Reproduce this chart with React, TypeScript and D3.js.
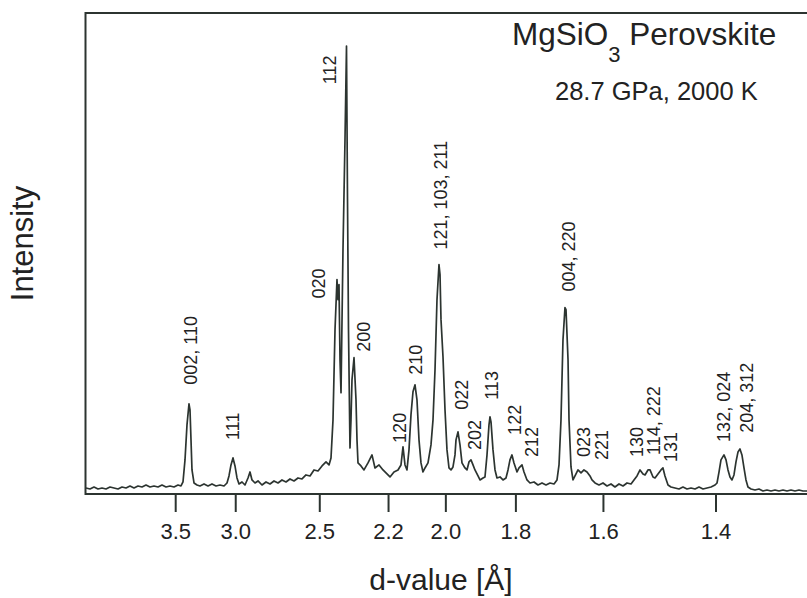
import React from "react";
import { scaleLinear, line } from "d3";

const width = 807;
const height = 598;

// d-value (Å), intensity (arb.)
const trace: [number, number][] = [
  [4.6606, 6], [4.5927, 5], [4.5268, 7], [4.4627, 5], [4.4003, 6], [4.3398, 5],
  [4.2808, 7], [4.2234, 6], [4.1676, 5], [4.1132, 7], [4.0602, 6], [4.0086, 8],
  [3.9582, 6], [3.9092, 8], [3.8613, 7], [3.8145, 9], [3.7689, 7], [3.7244, 8],
  [3.6809, 7], [3.6384, 9], [3.5969, 7], [3.5563, 8], [3.5166, 7], [3.4778, 9],
  [3.4493, 8], [3.4305, 12], [3.4119, 34], [3.3936, 69], [3.3754, 90], [3.3664, 84],
  [3.3574, 54], [3.3485, 24], [3.3308, 11], [3.3046, 9], [3.2788, 8], [3.245, 10],
  [3.212, 8], [3.1796, 10], [3.1478, 8], [3.1167, 9], [3.0862, 8], [3.0637, 11],
  [3.0489, 18], [3.0342, 29], [3.0197, 36], [3.0053, 28], [2.991, 16], [2.9769, 10],
  [2.9559, 12], [2.9353, 9], [2.9149, 16], [2.9015, 22], [2.8882, 14], [2.8685, 11],
  [2.849, 13], [2.8235, 9], [2.7984, 12], [2.7738, 10], [2.7496, 13], [2.7258, 11],
  [2.7025, 14], [2.6795, 12], [2.6569, 15], [2.6347, 13], [2.6128, 16], [2.5914, 15],
  [2.5702, 19], [2.5494, 18], [2.529, 24], [2.5088, 23], [2.489, 28], [2.4695, 32],
  [2.4551, 29], [2.4456, 36], [2.4361, 74], [2.4267, 164], [2.4175, 214], [2.4129, 194],
  [2.4082, 209], [2.4036, 134], [2.399, 101], [2.39, 244], [2.3809, 354], [2.3742, 447],
  [2.3697, 294], [2.3653, 164], [2.3587, 46], [2.3543, 74], [2.3499, 114], [2.3411, 136],
  [2.3325, 94], [2.3282, 54], [2.3239, 31], [2.3111, 28], [2.2985, 24], [2.2818, 31],
  [2.2654, 39], [2.2533, 26], [2.2372, 29], [2.2215, 24], [2.206, 20], [2.1944, 17],
  [2.1793, 22], [2.1643, 24], [2.1532, 29], [2.1459, 47], [2.1386, 29], [2.1314, 24],
  [2.1242, 44], [2.1171, 79], [2.11, 102], [2.1029, 109], [2.096, 94], [2.089, 54],
  [2.0821, 31], [2.0753, 22], [2.0684, 26], [2.0583, 31], [2.0483, 49], [2.0416, 74],
  [2.035, 124], [2.0285, 194], [2.022, 229], [2.0187, 219], [2.0155, 174], [2.0091, 137],
  [2.0027, 84], [1.9964, 44], [1.9901, 26], [1.9838, 24], [1.9776, 27], [1.9714, 39],
  [1.9683, 54], [1.9622, 62], [1.9561, 49], [1.9501, 31], [1.9411, 26], [1.9351, 24],
  [1.9292, 32], [1.9233, 34], [1.9174, 29], [1.9117, 24], [1.9029, 18], [1.8972, 14],
  [1.8887, 16], [1.8831, 17], [1.8774, 39], [1.8719, 69], [1.8691, 77], [1.8663, 72],
  [1.8608, 44], [1.8553, 24], [1.8499, 16], [1.8418, 17], [1.8338, 14], [1.8258, 16],
  [1.8205, 24], [1.8153, 34], [1.8101, 39], [1.8049, 31], [1.7971, 22], [1.792, 26],
  [1.7844, 29], [1.7794, 22], [1.7719, 14], [1.7645, 11], [1.7546, 12], [1.7449, 9],
  [1.7353, 11], [1.7258, 9], [1.7164, 11], [1.7071, 10], [1.7002, 14], [1.6956, 29],
  [1.6911, 74], [1.6866, 154], [1.6821, 186], [1.6798, 184], [1.6753, 134], [1.6731, 74],
  [1.6687, 27], [1.6643, 14], [1.6577, 20], [1.6534, 24], [1.6469, 21], [1.6405, 24],
  [1.6341, 22], [1.6278, 18], [1.6236, 14], [1.6173, 11], [1.6091, 9], [1.6009, 11],
  [1.5928, 8], [1.5848, 10], [1.5769, 7], [1.569, 10], [1.5612, 8], [1.5535, 11],
  [1.5459, 10], [1.5403, 14], [1.5346, 18], [1.529, 24], [1.5235, 20], [1.5198, 19],
  [1.5144, 24], [1.5107, 24], [1.5053, 17], [1.5017, 16], [1.4964, 20], [1.4911, 24],
  [1.4876, 26], [1.4841, 18], [1.4788, 9], [1.4737, 7], [1.4668, 6], [1.46, 5],
  [1.4533, 7], [1.4466, 5], [1.44, 6], [1.4334, 5], [1.4269, 7], [1.4205, 5],
  [1.4141, 6], [1.4078, 7], [1.4015, 9], [1.3984, 11], [1.3953, 22], [1.3923, 34],
  [1.3877, 39], [1.3846, 34], [1.3816, 24], [1.3786, 17], [1.3756, 14], [1.3726, 19],
  [1.3696, 32], [1.3666, 42], [1.3637, 45], [1.3608, 39], [1.3578, 26], [1.3549, 14],
  [1.352, 7], [1.3476, 5], [1.3419, 4], [1.3362, 5], [1.3306, 3], [1.325, 4],
  [1.3194, 3], [1.3139, 4], [1.3085, 3], [1.3031, 4], [1.2977, 3], [1.2924, 4],
  [1.2871, 3], [1.2819, 4], [1.2767, 3], [1.2715, 3],
];

const tickValues = [3.5, 3.0, 2.5, 2.2, 2.0, 1.8, 1.6, 1.4];

// hkl label, d of label baseline, intensity at label start
const reflections: [string, number, number][] = [
  ["002, 110", 3.3046, 109],
  ["111", 2.9769, 54],
  ["020", 2.4744, 195],
  ["112", 2.4198, 409],
  ["200", 2.2736, 142],
  ["120", 2.135, 51],
  ["210", 2.0787, 119],
  ["121, 103, 211", 1.9964, 244],
  ["022", 1.9321, 84],
  ["202", 1.8944, 44],
  ["113", 1.8472, 94],
  ["122", 1.787, 59],
  ["212", 1.7449, 37],
  ["004, 220", 1.6599, 202],
  ["023", 1.6278, 37],
  ["221", 1.5908, 34],
  ["130", 1.5235, 37],
  ["114, 222", 1.4928, 39],
  ["131", 1.4634, 32],
  ["132, 024", 1.3786, 52],
  ["204, 312", 1.3448, 61],
];

const left = 85.5;
const top = 13;
const bottom = 494;

// axis is linear in 1/d
const xScale = scaleLinear().domain([1 / 3.5, 1 / 1.4]).range([175.7, 716]);
const x = (d: number) => xScale(1 / d);
const yScale = scaleLinear().domain([0, 480]).range([bottom, top]);

const tracePath = line<[number, number]>()
  .x((p) => x(p[0]))
  .y((p) => yScale(p[1]))(trace);

const ink = "#2c3430";
const font = "'Liberation Sans', Arial, Helvetica, sans-serif";

export default function App() {
  return (
    <svg
      width={width}
      height={height}
      style={{ position: "absolute", left: 0, top: 0, background: "#fff" }}
      fontFamily={font}
    >
      <defs>
        <clipPath id="plot">
          <rect x={left} y={top} width={width - left} height={bottom - top} />
        </clipPath>
      </defs>
      <path
        d={`M${width},${top}H${left}V${bottom}H${width}`}
        fill="none"
        stroke={ink}
        strokeWidth={2}
      />
      <path
        d={tracePath || ""}
        fill="none"
        stroke={ink}
        strokeWidth={1.7}
        strokeLinejoin="round"
        clipPath="url(#plot)"
      />
      {tickValues.map((t) => (
        <g key={t} transform={`translate(${x(t)},0)`}>
          <line y1={bottom} y2={bottom + 18} stroke={ink} strokeWidth={2} />
          <text y={539} textAnchor="middle" fontSize={22} fill="#222">
            {t.toFixed(1)}
          </text>
        </g>
      ))}
      {reflections.map(([label, d, h]) => (
        <text
          key={label}
          transform={`translate(${x(d)},${yScale(h)}) rotate(-90)`}
          fontSize={18}
          fill="#222"
        >
          {label}
        </text>
      ))}
      <text x={512} y={45} fontSize={31.5} fill="#222">
        MgSiO
        <tspan fontSize={22} dy={17}>3</tspan>
        <tspan dy={-17}> Perovskite</tspan>
      </text>
      <text x={555} y={100} fontSize={25.5} fill="#222">
        28.7 GPa, 2000 K
      </text>
      <text
        transform="translate(33,243.5) rotate(-90)"
        textAnchor="middle"
        fontSize={31}
        fill="#222"
      >
        Intensity
      </text>
      <text x={441} y={590} textAnchor="middle" fontSize={30} fill="#222">
        d-value [Å]
      </text>
    </svg>
  );
}
